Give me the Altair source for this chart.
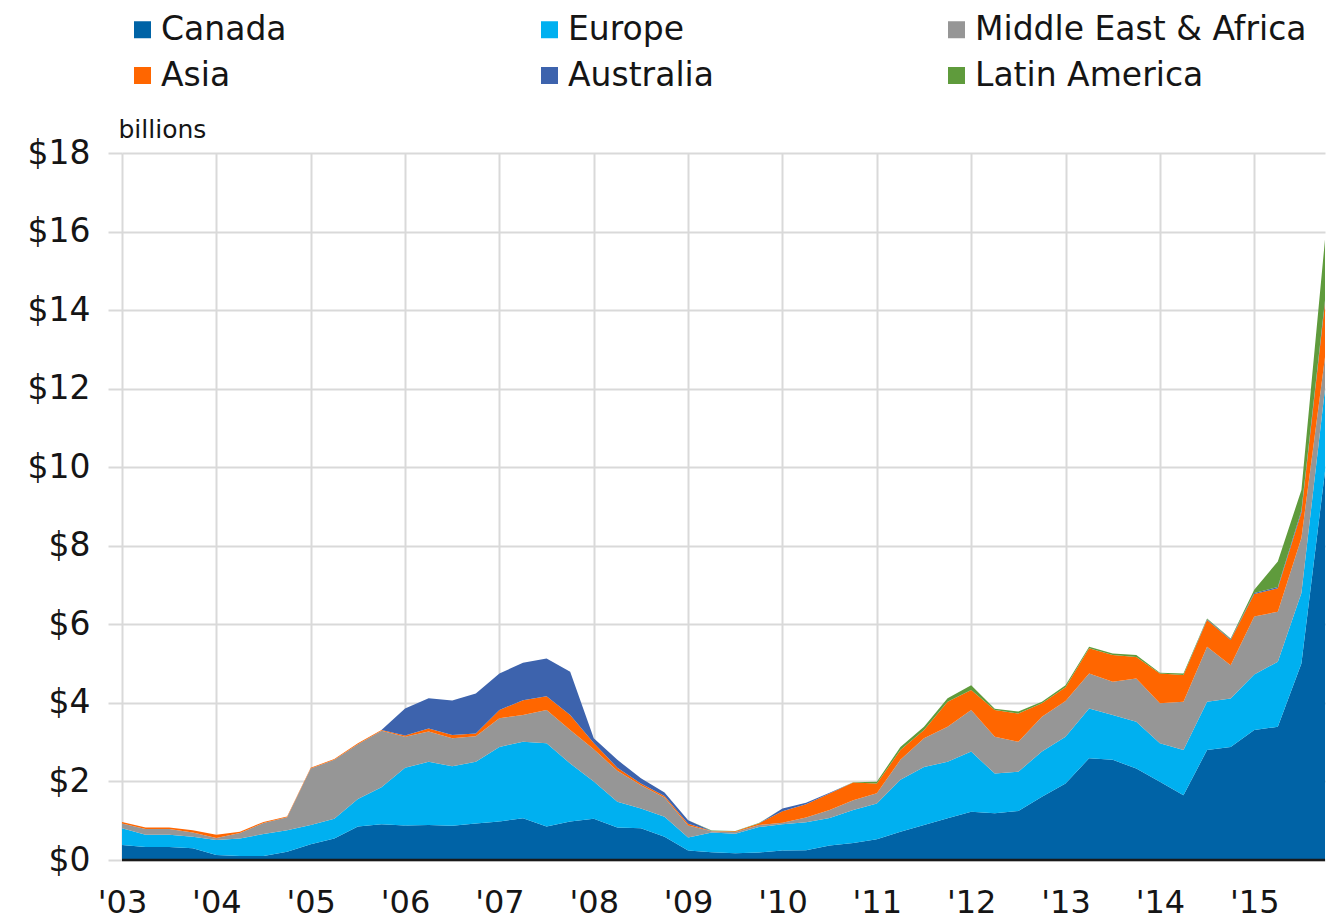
import altair as alt
import pandas as pd

# Quarterly values, 2003Q1 .. 2015Q4 (billions of dollars)
years = list(range(2003, 2016))
quarters = [y + q / 4 for y in years for q in range(4)]

canada = [0.38, 0.33, 0.33, 0.30, 0.13, 0.10, 0.10, 0.21, 0.40, 0.55, 0.85, 0.91,
          0.88, 0.89, 0.87, 0.93, 0.98, 1.06, 0.85, 0.98, 1.05, 0.83, 0.81, 0.59,
          0.24, 0.20, 0.17, 0.19, 0.24, 0.25, 0.37, 0.43, 0.53, 0.72, 0.89, 1.06,
          1.23, 1.19, 1.25, 1.61, 1.95, 2.59, 2.55, 2.33, 1.99, 1.65, 2.80, 2.88,
          3.31, 3.39, 5.00, 9.90]
europe = [0.43, 0.31, 0.31, 0.29, 0.38, 0.45, 0.56, 0.55, 0.49, 0.50, 0.70, 0.94,
          1.47, 1.61, 1.52, 1.57, 1.90, 1.95, 2.12, 1.48, 0.95, 0.65, 0.50, 0.51,
          0.33, 0.50, 0.50, 0.65, 0.67, 0.71, 0.70, 0.84, 0.91, 1.32, 1.48, 1.44,
          1.53, 1.01, 1.00, 1.15, 1.19, 1.27, 1.14, 1.19, 0.98, 1.15, 1.23, 1.23,
          1.41, 1.66, 1.80, 2.10]
mideast_africa = [0.12, 0.15, 0.15, 0.11, 0.05, 0.14, 0.28, 0.33, 1.44, 1.50, 1.40, 1.44,
                  0.79, 0.77, 0.71, 0.65, 0.73, 0.68, 0.85, 0.85, 0.82, 0.79, 0.59, 0.49,
                  0.31, 0.03, 0.04, 0.05, 0.04, 0.12, 0.20, 0.25, 0.26, 0.51, 0.73, 0.89,
                  1.06, 0.94, 0.76, 0.89, 0.91, 0.89, 0.85, 1.10, 1.02, 1.23, 1.40, 0.85,
                  1.48, 1.27, 1.40, 0.80]
asia = [0.04, 0.04, 0.04, 0.06, 0.08, 0.03, 0.03, 0.02, 0.02, 0.02, 0.02, 0.02,
        0.03, 0.08, 0.08, 0.07, 0.21, 0.38, 0.35, 0.38, 0.16, 0.08, 0.05, 0.04,
        0.04, 0.01, 0.02, 0.04, 0.29, 0.34, 0.42, 0.45, 0.25, 0.25, 0.21, 0.64,
        0.51, 0.68, 0.72, 0.34, 0.35, 0.64, 0.68, 0.55, 0.76, 0.68, 0.68, 0.64,
        0.57, 0.60, 0.65, 1.40]
australia = [0, 0, 0, 0, 0, 0, 0, 0, 0, 0, 0, 0,
             0.69, 0.77, 0.88, 1.02, 0.93, 0.95, 0.96, 1.10, 0.12, 0.20, 0.13, 0.09,
             0.09, 0, 0, 0, 0.07, 0.04, 0.02, 0, 0, 0, 0, 0,
             0, 0, 0, 0, 0, 0, 0, 0, 0, 0, 0.02, 0.02,
             0.03, 0.03, 0.05, 0.05]
latin_america = [0, 0, 0, 0, 0, 0, 0, 0, 0, 0, 0, 0,
                 0, 0, 0, 0, 0, 0, 0, 0, 0, 0, 0, 0,
                 0, 0.01, 0.01, 0.01, 0, 0, 0, 0.01, 0.04, 0.08, 0.08, 0.09,
                 0.12, 0.03, 0.05, 0.04, 0.05, 0.04, 0.04, 0.05, 0.02, 0.04, 0.02, 0.02,
                 0.08, 0.65, 0.52, 1.55]

regions = ["Canada", "Europe", "Middle East & Africa", "Asia", "Australia", "Latin America"]
colors = ["#0063A6", "#00B0F0", "#969696", "#FF6600", "#3D63AD", "#5F9B3C"]
series = [canada, europe, mideast_africa, asia, australia, latin_america]

rows = []
for k, (name, vals) in enumerate(zip(regions, series)):
    for t, v in zip(quarters, vals):
        rows.append({"t": t, "region": name, "value": v, "ord": k})
df = pd.DataFrame(rows)

FONT = "DejaVu Sans"
TXT = "#151515"
GRID = "#D9D9D9"

area = alt.Chart(df).mark_area(opacity=1).encode(
    x=alt.X("t:Q",
            scale=alt.Scale(domain=[2003, 2015.75], nice=False, zero=False),
            axis=alt.Axis(values=years, title=None,
                          labelExpr="\"'\" + substring(toString(datum.value), 2, 4)",
                          labelFlush=False, labelOverlap=False,
                          ticks=False, tickSize=0, domain=False,
                          grid=True, gridColor=GRID, gridWidth=2,
                          labelFont=FONT, labelFontSize=32, labelColor=TXT,
                          labelPadding=27)),
    y=alt.Y("value:Q", stack="zero",
            scale=alt.Scale(domain=[0, 18], nice=False),
            axis=alt.Axis(values=list(range(0, 19, 2)),
                          labelExpr="'$' + datum.value",
                          labelFlush=False, labelOverlap=False,
                          domain=False, ticks=True, tickSize=14,
                          tickColor=GRID, tickWidth=2,
                          grid=True, gridColor=GRID, gridWidth=2,
                          labelFont=FONT, labelFontSize=33, labelColor=TXT,
                          labelPadding=18,
                          title="billions", titleAngle=0, titleX=-4, titleY=-16,
                          titleAlign="left", titleBaseline="alphabetic",
                          titleFont=FONT, titleFontSize=25, titleFontWeight="normal",
                          titleColor=TXT)),
    color=alt.Color("region:N",
                    scale=alt.Scale(domain=regions, range=colors),
                    legend=alt.Legend(orient="none", legendX=4, legendY=-140,
                                      columns=3, direction="horizontal",
                                      title=None, symbolType="square",
                                      symbolSize=289, symbolStrokeWidth=0,
                                      symbolOpacity=1,
                                      labelFont=FONT, labelFontSize=33,
                                      labelColor=TXT, labelOffset=2,
                                      labelLimit=600,
                                      columnPadding=40, rowPadding=12,
                                      gridAlign="all", padding=0)),
    order=alt.Order("ord:Q", sort="ascending"),
)

baseline = alt.Chart(pd.DataFrame({"v": [0]})).mark_rule(
    color="#1a1a1a", strokeWidth=2.5).encode(y="v:Q")

chart = alt.layer(area, baseline).properties(
    width=1203, height=707,
    padding={"left": 114, "top": 145, "right": 1, "bottom": 64},
    autosize=alt.AutoSizeParams(type="none"),
).configure_view(stroke=None)

chart.save("out.html", embed_options={"renderer": "svg", "actions": False})
